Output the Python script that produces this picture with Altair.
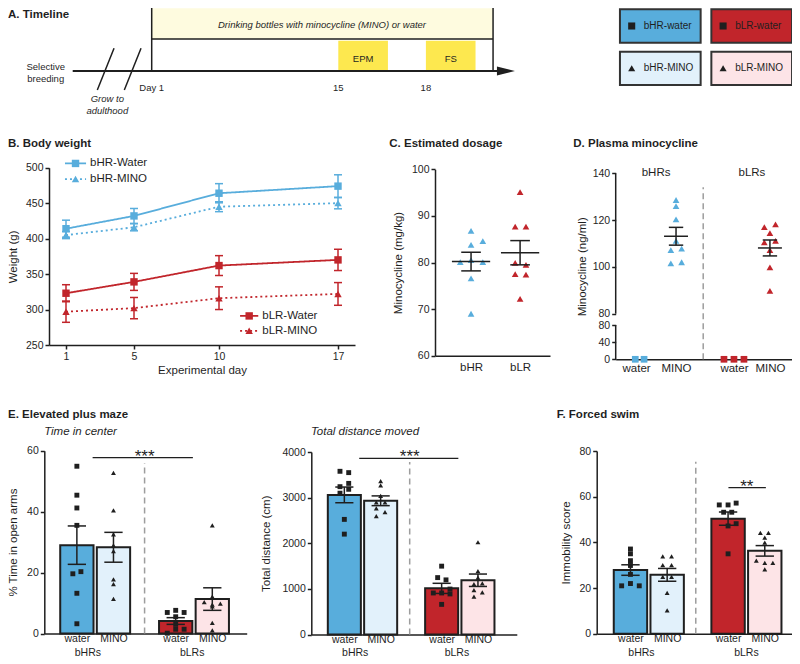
import altair as alt
import pandas as pd

# ======================= DATA =======================
# A. Timeline (experimental days)
tl_treatment = [1, 20.3]
tl_tests = ["EPM", "FS"]
tl_test_start = [15, 18]
tl_test_end = [16.7, 19.7]
tl_ticks = [1, 15, 18]
tl_tick_labels = ["Day 1", "15", "18"]
legend_labels = ["bHR-water", "bLR-water", "bHR-MINO", "bLR-MINO"]
legend_kinds = ["water", "water", "MINO", "MINO"]

# B. Body weight
bw_days = [1, 5, 10, 17]
bw_groups = ["bHR-Water", "bHR-MINO", "bLR-Water", "bLR-MINO"]
bw_mean = {
    "bHR-Water": [414, 432, 464, 474],
    "bHR-MINO": [405, 416, 445, 450],
    "bLR-Water": [323, 339, 362, 370],
    "bLR-MINO": [297, 302, 316, 322],
}
bw_sem = {
    "bHR-Water": [12, 10.5, 13.5, 16],
    "bHR-MINO": [5, 5, 7, 8],
    "bLR-Water": [12, 12, 14, 15],
    "bLR-MINO": [15, 15, 16, 16],
}

# C. Estimated dosage
dose_groups = ["bHR", "bLR"]
dose_bhr = [86.8, 83.8, 84.6, 80.1, 80.5, 80.1, 76.6, 69.0]
dose_blr = [95.1, 87.7, 87.7, 79.9, 79.5, 77.5, 77.4, 72.2]
dose_mean = [80.2, 82.1]
dose_sem = [2.0, 2.6]
dose_bhr_jitter = [0, 0, 0.24, -0.22, 0, 0.24, 0, 0]
dose_blr_jitter = [0, -0.1, 0.12, -0.1, 0.12, -0.1, 0.12, 0]

# D. Plasma minocycline
GROUPS = ["bHR-water", "bHR-MINO", "bLR-water", "bLR-MINO"]
KINDS = ["water", "MINO", "water", "MINO"]
plasma = {
    "bHR-water": [0, 0],
    "bHR-MINO": [128.6, 126.0, 120.3, 111.1, 107.2, 107.8, 101.5, 102.0],
    "bLR-water": [0, 0, 0],
    "bLR-MINO": [117.0, 118.2, 114.4, 110.5, 111.1, 107.2, 99.8, 89.8],
}
plasma_jitter = {
    "bHR-water": [-0.02, 0.2],
    "bHR-MINO": [0, 0, 0, 0, -0.13, 0.14, -0.13, 0.14],
    "bLR-water": [-0.25, 0, 0.25],
    "bLR-MINO": [-0.14, 0.14, 0, -0.14, 0.14, 0, 0, 0],
}
plasma_mino_mean = [113.1, 108.1]
plasma_mino_sem = [3.8, 3.4]

# E. Elevated plus maze - % time in open arms
open_arms = {
    "bHR-water": [54.9, 45.4, 41.2, 35.5, 19.6, 20.3, 13.2, 3.2],
    "bHR-MINO": [52.7, 40.4, 32.5, 28.9, 27.0, 17.8, 16.2, 11.4],
    "bLR-water": [7.6, 6.9, 6.9, 5.5, 3.0, 1.4, 1.4, 0.1],
    "bLR-MINO": [35.5, 12.1, 10.3, 9.8, 8.9, 9.5, 3.5, 1.0],
}
open_arms_jitter = {
    "bHR-water": [0, 0, 0, 0, -0.11, 0.11, 0, 0],
    "bHR-MINO": [0, 0, 0, 0, 0, 0, 0, 0],
    "bLR-water": [0, -0.23, 0.23, 0, 0, 0, 0.23, -0.23],
    "bLR-MINO": [0, 0, -0.22, 0.22, 0, 0, 0, 0],
}
open_arms_mean = [29.0, 28.3, 4.1, 11.3]
open_arms_sem = [6.3, 4.9, 1.1, 3.7]

# E. Total distance moved (cm)
distance = {
    "bHR-water": [3577, 3548, 3312, 3240, 3183, 3097, 2523, 2200],
    "bHR-MINO": [3362, 3269, 3039, 2896, 2896, 2767, 2681, 2595],
    "bLR-water": [1498, 1247, 1197, 996, 910, 910, 889, 660],
    "bLR-MINO": [2022, 1391, 1247, 1104, 1118, 975, 925, 832],
}
distance_jitter = {
    "bHR-water": [-0.12, 0.12, 0.12, -0.12, 0.12, -0.12, 0, 0],
    "bHR-MINO": [0, 0, 0, -0.12, 0.12, -0.12, 0.12, -0.12],
    "bLR-water": [0, -0.11, 0.12, 0.23, 0, -0.23, 0.23, 0],
    "bLR-MINO": [0, 0, 0, -0.11, 0.12, -0.11, 0.12, -0.11],
}
distance_mean = [3060, 2931, 1011, 1189]
distance_sem = [172, 107, 111, 136]

# F. Forced swim - immobility score
immobility = {
    "bHR-water": [37.1, 35.0, 32.0, 29.9, 26.0, 22.0, 21.0, 21.0],
    "bHR-MINO": [33.9, 33.9, 30.1, 30.1, 24.9, 24.9, 17.9, 10.3],
    "bLR-water": [56.4, 56.4, 57.2, 53.2, 53.2, 47.2, 48.2, 35.0],
    "bLR-MINO": [44.2, 44.2, 42.1, 39.9, 32.0, 31.0, 31.0, 28.2],
}
immobility_jitter = {
    "bHR-water": [0, 0, 0, 0, 0, 0, -0.24, 0.24],
    "bHR-MINO": [-0.12, 0.12, -0.12, 0.12, -0.12, 0.12, 0, 0],
    "bLR-water": [-0.24, 0, 0.22, -0.12, 0.1, 0, 0.22, 0],
    "bLR-MINO": [-0.12, 0.1, 0, 0, -0.23, 0, 0.22, 0],
}
immobility_mean = [27.9, 25.8, 50.4, 36.3]
immobility_sem = [2.3, 2.8, 2.9, 2.3]

# ======================= STYLE / LAYOUT =======================
OFF = 8
W, H = 784, 648
FONT = "Liberation Sans"
DARK = "#1f1f1f"
BLUE = "#58addc"
LBLUE = "#e2f1fb"
RED = "#c1252b"
PINK = "#fde4e7"
CREAM = "#fefbdf"
YELLOW = "#fde84f"
GRAY = "#9d9d9d"
FILLS = [BLUE, LBLUE, RED, PINK]
PCOLS = [BLUE, BLUE, RED, RED]


def P(v):
    return v - OFF


def lin(domain, r0, r1):
    return alt.Scale(domain=domain, range=[P(r0), P(r1)], nice=False, zero=False)


def one():
    return pd.DataFrame({"k": [0]})


def txt(text, x, y, size=11.5, weight="normal", style="normal", align="left", baseline="middle"):
    return alt.Chart(one()).mark_text(
        text=text, font=FONT, fontSize=size, fontWeight=weight, fontStyle=style,
        align=align, baseline=baseline, color=DARK
    ).encode(x=alt.value(x), y=alt.value(y))


L = []

# ======================= A. TIMELINE =======================
tlx = alt.Scale(domain=[-5, 1, 15, 21], range=[P(72.7), P(151.7), P(338.3), P(513.5)], nice=False, zero=False)


def TX(f):
    return alt.X(f + ":Q", scale=tlx, axis=None)


treat_df = pd.DataFrame({"s": [tl_treatment[0]], "e": [tl_treatment[1]]})
L.append(alt.Chart(treat_df).mark_rect(fill=CREAM).encode(x=TX("s"), x2="e", y=alt.value(P(8.3)), y2=alt.value(P(39))))
L.append(alt.Chart(treat_df).mark_rule(color=DARK, strokeWidth=1.5).encode(x=TX("s"), x2="e", y=alt.value(P(39))))
edge_df = pd.DataFrame({"d": tl_treatment})
L.append(alt.Chart(edge_df).mark_rule(color=DARK, strokeWidth=1.5).encode(x=TX("d"), y=alt.value(P(6)), y2=alt.value(P(71))))
test_df = pd.DataFrame({"name": tl_tests, "s": tl_test_start, "e": tl_test_end})
L.append(alt.Chart(test_df).mark_rect(fill=YELLOW).encode(x=TX("s"), x2="e", y=alt.value(P(40.7)), y2=alt.value(P(70))))
L.append(alt.Chart(test_df).transform_calculate(m="(datum.s + datum.e) / 2").mark_text(
    font=FONT, fontSize=9.5, color=DARK).encode(x=TX("m"), y=alt.value(P(59)), text="name:N"))
arrow_df = pd.DataFrame({"s": [-5], "e": [20.5], "h": [20.74]})
L.append(alt.Chart(arrow_df).mark_rule(color=DARK, strokeWidth=2).encode(x=TX("s"), x2="e", y=alt.value(P(71))))
L.append(alt.Chart(arrow_df).mark_point(shape="M-1,-0.5L1,0L-1,0.5Z", size=324, filled=True, color=DARK, opacity=1).encode(
    x=TX("h"), y=alt.value(P(71))))
slash_df = pd.DataFrame({"a": [-3.13, -1.08], "b": [-1.86, 0.19]})
L.append(alt.Chart(slash_df).mark_rule(color=DARK, strokeWidth=1.5).encode(
    x=TX("a"), x2="b", y=alt.value(P(90)), y2=alt.value(P(48.3))))
tick_df = pd.DataFrame({"d": tl_ticks, "t": tl_tick_labels})
L.append(alt.Chart(tick_df).mark_text(font=FONT, fontSize=9.5, color=DARK).encode(x=TX("d"), y=alt.value(P(87.7)), text="t:N"))
L.append(txt("Drinking bottles with minocycline (MINO) or water", P(322), P(25), size=9.5, style="italic", align="center"))
L.append(txt("Selective", P(45.7), P(66.7), size=9.5, align="center"))
L.append(txt("breeding", P(45.7), P(79), size=9.5, align="center"))
L.append(txt("Grow to", P(107.3), P(99.3), size=9.5, style="italic", align="center"))
L.append(txt("adulthood", P(107.3), P(110.7), size=9.5, style="italic", align="center"))

# legend boxes
leg_df = pd.DataFrame({"label": legend_labels, "kind": legend_kinds, "col": [0, 1, 0, 1], "row": [0, 0, 1, 1]})
lgx = alt.Scale(domain=[0, 1], range=[P(660.3), P(751.7)])
lgy = alt.Scale(domain=[0, 1], range=[P(26), P(68.3)])
L.append(alt.Chart(leg_df).mark_point(shape="M-1,-0.413L1,-0.413L1,0.413L-1,0.413Z", size=6512, filled=True,
                                      stroke="#333333", strokeWidth=2, opacity=1).encode(
    x=alt.X("col:Q", scale=lgx, axis=None), y=alt.Y("row:Q", scale=lgy, axis=None),
    fill=alt.Fill("label:N", scale=alt.Scale(domain=legend_labels, range=[BLUE, RED, LBLUE, PINK]), legend=None)))
L.append(alt.Chart(leg_df).mark_point(filled=True, size=50, color=DARK, opacity=1, xOffset=-28.6).encode(
    x=alt.X("col:Q", scale=lgx, axis=None), y=alt.Y("row:Q", scale=lgy, axis=None),
    shape=alt.Shape("kind:N", scale=alt.Scale(domain=["water", "MINO"], range=["square", "triangle-up"]), legend=None)))
L.append(alt.Chart(leg_df).mark_text(font=FONT, fontSize=10, color=DARK, align="left", dx=-16.5).encode(
    x=alt.X("col:Q", scale=lgx, axis=None), y=alt.Y("row:Q", scale=lgy, axis=None), text="label:N"))

# ======================= TITLES =======================
L.append(txt("A. Timeline", 0, 7, weight="bold"))
L.append(txt("B. Body weight", 0, P(143.5), weight="bold"))
L.append(txt("C. Estimated dosage", P(389.3), P(143.5), weight="bold"))
L.append(txt("D. Plasma minocycline", P(573.3), P(143.5), weight="bold"))
L.append(txt("E. Elevated plus maze", 0, P(415), weight="bold"))
L.append(txt("F. Forced swim", P(556.7), P(415), weight="bold"))
L.append(txt("Time in center", P(80.5), P(432), style="italic", align="center"))
L.append(txt("Total distance moved", P(365), P(432), style="italic", align="center"))

# ======================= B. BODY WEIGHT =======================
bx = lin([0, 18], 49, 355)
by = lin([250, 500], 345, 167.7)
rows = []
for g in bw_groups:
    for d, m, s in zip(bw_days, bw_mean[g], bw_sem[g]):
        rows.append({"g": g, "day": d, "m": m, "lo": m - s, "hi": m + s, "cl": d - 0.235, "cr": d + 0.235})
bw_df = pd.DataFrame(rows)
bcol = alt.Color("g:N", scale=alt.Scale(domain=bw_groups, range=[BLUE, BLUE, RED, RED]), legend=None)
bdash = alt.StrokeDash("g:N", scale=alt.Scale(domain=bw_groups, range=[[1, 0], [2, 3], [1, 0], [2, 3]]), legend=None)
bshape = alt.Shape("g:N", scale=alt.Scale(domain=bw_groups, range=["square", "triangle-up", "square", "triangle-up"]), legend=None)

L.append(alt.Chart(bw_df).mark_line(strokeWidth=1.8).encode(
    x=alt.X("day:Q", scale=bx, axis=alt.Axis(values=bw_days, title="Experimental day", orient="bottom",
                                             offset=P(345) - H, titlePadding=3)),
    y=alt.Y("m:Q", scale=by, axis=alt.Axis(values=[250, 300, 350, 400, 450, 500], title="Weight (g)",
                                           orient="left", offset=-P(49), titlePadding=7)),
    color=bcol, strokeDash=bdash))
L.append(alt.Chart(bw_df).mark_rule(strokeWidth=1.5).encode(
    x=alt.X("day:Q", scale=bx, axis=None), y=alt.Y("lo:Q", scale=by, axis=None), y2="hi", color=bcol))
for c in ["lo", "hi"]:
    L.append(alt.Chart(bw_df).mark_rule(strokeWidth=1.5).encode(
        x=alt.X("cl:Q", scale=bx, axis=None), x2="cr", y=alt.Y(c + ":Q", scale=by, axis=None), color=bcol))
L.append(alt.Chart(bw_df).mark_point(filled=True, size=55, opacity=1).encode(
    x=alt.X("day:Q", scale=bx, axis=None), y=alt.Y("m:Q", scale=by, axis=None), color=bcol, shape=bshape))

bleg = pd.DataFrame({"g": bw_groups, "a": [0.94, 0.94, 11.24, 11.24], "b": [2.18, 2.18, 12.31, 12.31],
                     "y": [506, 484, 291, 270]})
L.append(alt.Chart(bleg).mark_rule(strokeWidth=1.8).encode(
    x=alt.X("a:Q", scale=bx, axis=None), x2="b", y=alt.Y("y:Q", scale=by, axis=None), color=bcol, strokeDash=bdash))
L.append(alt.Chart(bleg).transform_calculate(mid="(datum.a + datum.b) / 2").mark_point(filled=True, size=55, opacity=1).encode(
    x=alt.X("mid:Q", scale=bx, axis=None), y=alt.Y("y:Q", scale=by, axis=None), color=bcol, shape=bshape))
L.append(alt.Chart(bleg).mark_text(font=FONT, fontSize=11.5, color=DARK, align="left", dx=4).encode(
    x=alt.X("b:Q", scale=bx, axis=None), y=alt.Y("y:Q", scale=by, axis=None), text="g:N"))

# ======================= C. ESTIMATED DOSAGE =======================
cx = lin([-0.735, 1.61], 435, 550)
cy = lin([60, 100], 355.7, 169.3)
crow = []
for gi, (g, vals, jits) in enumerate(zip(dose_groups, [dose_bhr, dose_blr], [dose_bhr_jitter, dose_blr_jitter])):
    for v, j in zip(vals, jits):
        crow.append({"g": g, "x": gi + j, "v": v})
c_pts = pd.DataFrame(crow)
c_st = pd.DataFrame({"g": dose_groups, "x": [0, 1], "m": dose_mean, "s": dose_sem})
c_st["lo"] = c_st["m"] - c_st["s"]
c_st["hi"] = c_st["m"] + c_st["s"]
c_st["ml"] = c_st["x"] - 0.39
c_st["mr"] = c_st["x"] + 0.39
c_st["cl"] = c_st["x"] - 0.2
c_st["cr"] = c_st["x"] + 0.2
ccol = alt.Color("g:N", scale=alt.Scale(domain=dose_groups, range=[BLUE, RED]), legend=None)
L.append(alt.Chart(c_pts).mark_point(filled=True, size=45, opacity=1, shape="triangle-up").encode(
    x=alt.X("x:Q", scale=cx, axis=alt.Axis(values=[0, 1], labelExpr="datum.value < 0.5 ? 'bHR' : 'bLR'",
                                           orient="bottom", offset=P(355.7) - H, tickSize=0, labelPadding=6,
                                           labelFontSize=11.5, title=None)),
    y=alt.Y("v:Q", scale=cy, axis=alt.Axis(values=[60, 70, 80, 90, 100], title="Minocycline (mg/kg)",
                                           orient="left", offset=-P(435), titlePadding=8)),
    color=ccol))
L.append(alt.Chart(c_st).mark_rule(color=DARK, strokeWidth=1.5).encode(
    x=alt.X("ml:Q", scale=cx, axis=None), x2="mr", y=alt.Y("m:Q", scale=cy, axis=None)))
L.append(alt.Chart(c_st).mark_rule(color=DARK, strokeWidth=1.5).encode(
    x=alt.X("x:Q", scale=cx, axis=None), y=alt.Y("lo:Q", scale=cy, axis=None), y2="hi"))
for c in ["lo", "hi"]:
    L.append(alt.Chart(c_st).mark_rule(color=DARK, strokeWidth=1.5).encode(
        x=alt.X("cl:Q", scale=cx, axis=None), x2="cr", y=alt.Y(c + ":Q", scale=cy, axis=None)))

# ======================= D. PLASMA MINOCYCLINE =======================
d_pos = [0, 1, 2.45, 3.35]
dxs = lin([-0.51, 4.02], 615.7, 796.7)
dys = alt.Scale(domain=[0, 80, 80.01, 140], range=[P(359.3), P(325), P(313.7), P(173.3)], nice=False, zero=False)
CAT_EXPR = "datum.value < 0.5 ? 'water' : (datum.value < 1.5 ? 'MINO' : (datum.value < 3.0 ? 'water' : 'MINO'))"
drow = []
for g, k, p in zip(GROUPS, KINDS, d_pos):
    for v, j in zip(plasma[g], plasma_jitter[g]):
        drow.append({"g": g, "kind": k, "x": p + j, "v": v})
d_pts = pd.DataFrame(drow)
d_st = pd.DataFrame({"x": [d_pos[1], d_pos[3]], "m": plasma_mino_mean, "s": plasma_mino_sem})
d_st["lo"] = d_st["m"] - d_st["s"]
d_st["hi"] = d_st["m"] + d_st["s"]
d_st["ml"] = d_st["x"] - 0.3
d_st["mr"] = d_st["x"] + 0.3
d_st["cl"] = d_st["x"] - 0.18
d_st["cr"] = d_st["x"] + 0.18
dcol = alt.Color("g:N", scale=alt.Scale(domain=GROUPS, range=PCOLS), legend=None)
dshape = alt.Shape("kind:N", scale=alt.Scale(domain=["water", "MINO"], range=["square", "triangle-up"]), legend=None)
d_dash = pd.DataFrame({"x": [1.68], "y0": [0], "y1": [134]})
L.append(alt.Chart(d_dash).mark_rule(color=GRAY, strokeWidth=1.5, strokeDash=[6, 4]).encode(
    x=alt.X("x:Q", scale=dxs, axis=None), y=alt.Y("y0:Q", scale=dys, axis=None), y2="y1"))
d_axis_df = pd.DataFrame({"x": [-0.51, -0.51], "y0": [0, 80.01], "y1": [80, 140]})
L.append(alt.Chart(d_axis_df).mark_rule(color=DARK, strokeWidth=1.5).encode(
    x=alt.X("x:Q", scale=dxs, axis=None), y=alt.Y("y0:Q", scale=dys, axis=None), y2="y1"))
L.append(alt.Chart(d_pts).mark_point(filled=True, size=45, opacity=1).encode(
    x=alt.X("x:Q", scale=dxs, axis=alt.Axis(values=d_pos, labelExpr=CAT_EXPR, orient="bottom",
                                            offset=P(359.3) - H, tickSize=0, labelPadding=3,
                                            labelFontSize=11.5, title=None)),
    y=alt.Y("v:Q", scale=dys, axis=alt.Axis(values=[0, 40, 80, 80.01, 100, 120, 140],
                                            labelExpr="format(round(datum.value), 'd')", labelOverlap=False,
                                            domain=False, title="Minocycline (ng/ml)", orient="left",
                                            offset=-P(615.7), titlePadding=5)),
    color=dcol, shape=dshape))
L.append(alt.Chart(d_st).mark_rule(color=DARK, strokeWidth=1.5).encode(
    x=alt.X("ml:Q", scale=dxs, axis=None), x2="mr", y=alt.Y("m:Q", scale=dys, axis=None)))
L.append(alt.Chart(d_st).mark_rule(color=DARK, strokeWidth=1.5).encode(
    x=alt.X("x:Q", scale=dxs, axis=None), y=alt.Y("lo:Q", scale=dys, axis=None), y2="hi"))
for c in ["lo", "hi"]:
    L.append(alt.Chart(d_st).mark_rule(color=DARK, strokeWidth=1.5).encode(
        x=alt.X("cl:Q", scale=dxs, axis=None), x2="cr", y=alt.Y(c + ":Q", scale=dys, axis=None)))
d_grp = pd.DataFrame({"x": [0.5, 2.9], "y": [140, 140], "t": ["bHRs", "bLRs"]})
L.append(alt.Chart(d_grp).mark_text(font=FONT, fontSize=11.5, color=DARK, baseline="middle").encode(
    x=alt.X("x:Q", scale=dxs, axis=None), y=alt.Y("y:Q", scale=dys, axis=None), text="t:N"))


# ======================= BAR PANELS (E, F) =======================
def bar_panel(vals, jit, means, sems, pos, xpx, xdom, ypx, ydom, yvals, ytitle, tpad,
              dash_x, dash_top, sig, grp_x):
    xs = lin(xdom, xpx[0], xpx[1])
    ys = lin(ydom, ypx[0], ypx[1])
    out = []
    bars = pd.DataFrame({"g": GROUPS, "pos": pos, "m": means, "s": sems})
    bars["l"] = bars["pos"] - 0.455
    bars["r"] = bars["pos"] + 0.455
    bars["zero"] = 0.0
    bars["lo"] = bars["m"] - bars["s"]
    bars["hi"] = bars["m"] + bars["s"]
    bars["cl"] = bars["pos"] - 0.25
    bars["cr"] = bars["pos"] + 0.25
    xaxis = alt.Axis(values=pos, labelExpr=CAT_EXPR, orient="bottom", offset=P(ypx[0]) - H, tickSize=0,
                     labelPadding=0, labelBaseline="top", labelFontSize=10.5, title=None)
    yaxis = alt.Axis(values=yvals, format="d", title=ytitle, orient="left", offset=-P(xpx[0]),
                     titlePadding=tpad)
    dd = pd.DataFrame({"x": [dash_x], "y0": [0], "y1": [dash_top]})
    out.append(alt.Chart(dd).mark_rule(color=GRAY, strokeWidth=1.5, strokeDash=[6, 4]).encode(
        x=alt.X("x:Q", scale=xs, axis=None), y=alt.Y("y0:Q", scale=ys, axis=None), y2="y1"))
    out.append(alt.Chart(bars).mark_rect(stroke=DARK, strokeWidth=2).encode(
        x=alt.X("l:Q", scale=xs, axis=xaxis), x2="r",
        y=alt.Y("m:Q", scale=ys, axis=yaxis), y2="zero",
        fill=alt.Fill("g:N", scale=alt.Scale(domain=GROUPS, range=FILLS), legend=None)))
    prow = []
    for g, k, p in zip(GROUPS, KINDS, pos):
        for v, j in zip(vals[g], jit[g]):
            prow.append({"kind": k, "x": p + j, "v": v})
    pts = pd.DataFrame(prow)
    out.append(alt.Chart(pts).mark_point(filled=True, size=24, opacity=1, color=DARK).encode(
        x=alt.X("x:Q", scale=xs, axis=None), y=alt.Y("v:Q", scale=ys, axis=None),
        shape=alt.Shape("kind:N", scale=alt.Scale(domain=["water", "MINO"], range=["square", "triangle-up"]),
                        legend=None)))
    out.append(alt.Chart(bars).mark_rule(color=DARK, strokeWidth=1.5).encode(
        x=alt.X("pos:Q", scale=xs, axis=None), y=alt.Y("lo:Q", scale=ys, axis=None), y2="hi"))
    for c in ["lo", "hi"]:
        out.append(alt.Chart(bars).mark_rule(color=DARK, strokeWidth=1.5).encode(
            x=alt.X("cl:Q", scale=xs, axis=None), x2="cr", y=alt.Y(c + ":Q", scale=ys, axis=None)))
    sd = pd.DataFrame({"a": [sig[0]], "b": [sig[1]], "y": [sig[2]], "m": [sig[3]], "t": [sig[4]]})
    out.append(alt.Chart(sd).mark_rule(color=DARK, strokeWidth=1.2).encode(
        x=alt.X("a:Q", scale=xs, axis=None), x2="b", y=alt.Y("y:Q", scale=ys, axis=None)))
    out.append(alt.Chart(sd).mark_text(font=FONT, fontSize=17, color=DARK, baseline="alphabetic", dy=4).encode(
        x=alt.X("m:Q", scale=xs, axis=None), y=alt.Y("y:Q", scale=ys, axis=None), text="t:N"))
    gd = pd.DataFrame({"x": grp_x, "t": ["bHRs", "bLRs"]})
    out.append(alt.Chart(gd).mark_text(font=FONT, fontSize=10.5, color=DARK, baseline="alphabetic").encode(
        x=alt.X("x:Q", scale=xs, axis=None), y=alt.value(647.5), text="t:N"))
    return out


L += bar_panel(open_arms, open_arms_jitter, open_arms_mean, open_arms_sem, [0, 1, 2.7, 3.7],
               (44.3, 246.7), [-0.89, 4.64], (633.5, 450.7), [0, 60], [0, 20, 40, 60],
               "% Time in open arms", 8, 1.85, 56, (0.43, 3.17, 57.7, 1.85, "***"), [0.3, 3.15])
L += bar_panel(distance, distance_jitter, distance_mean, distance_sem, [0, 1, 2.68, 3.68],
               (311.3, 516.8), [-0.91, 4.75], (634.5, 452), [0, 4000], [0, 1000, 2000, 3000, 4000],
               "Total distance (cm)", 10, 1.8, 3780, (0.41, 3.14, 3860, 1.8, "***"), [0.3, 3.1])
L += bar_panel(immobility, immobility_jitter, immobility_mean, immobility_sem, [0, 1, 2.66, 3.66],
               (596.7, 800), [-0.92, 4.62], (633.8, 451), [0, 80], [0, 20, 40, 60, 80],
               "Immobility score", 8, 1.78, 75.3, (2.67, 3.69, 64, 3.17, "**"), [0.3, 3.16])

chart = alt.layer(*L).properties(
    width=W, height=H, autosize=alt.AutoSizeParams(type="none"), padding=0
).resolve_scale(
    x="independent", y="independent", color="independent", fill="independent",
    shape="independent", strokeDash="independent"
).configure_view(stroke=None).configure_axis(
    grid=False, domainColor=DARK, domainWidth=1.5, tickColor=DARK, tickWidth=1.5, tickSize=4,
    labelColor=DARK, titleColor=DARK, labelFont=FONT, titleFont=FONT, labelFontSize=10.5,
    titleFontSize=11.5, titleFontWeight="normal", labelPadding=2
)

chart.save("out.html", embed_options={"renderer": "svg", "actions": False})
